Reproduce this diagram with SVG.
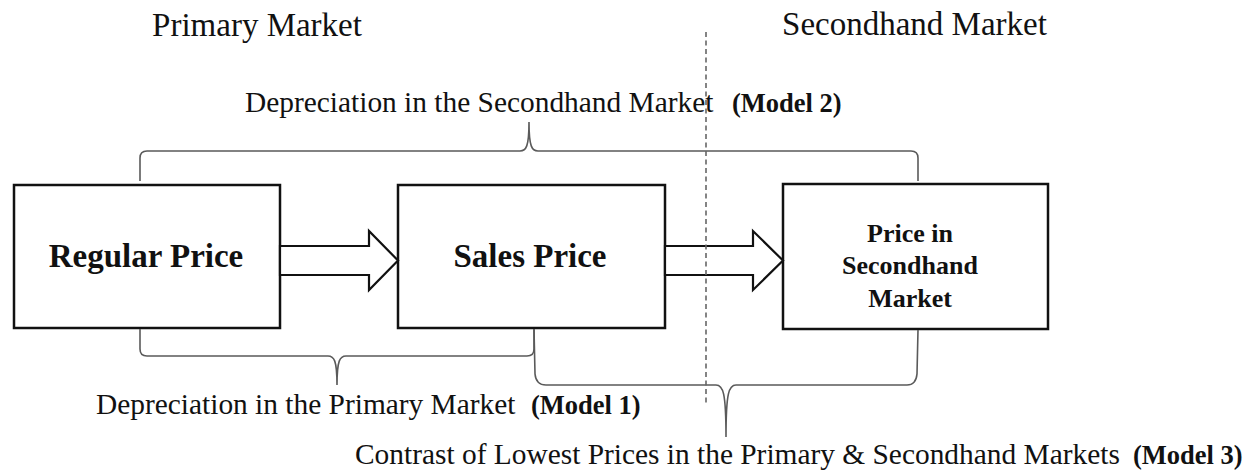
<svg xmlns="http://www.w3.org/2000/svg" width="1245" height="473" viewBox="0 0 1245 473">
<style>
  .box{fill:#fff;stroke:#111;stroke-width:2.5}
  .arrow{fill:#fff;stroke:#111;stroke-width:2.2;stroke-linejoin:miter}
  .brace{fill:none;stroke:#5a5a5a;stroke-width:1.6}
  .divider{fill:none;stroke:#666;stroke-width:1.6;stroke-dasharray:5 3.5}
  .hdr{font-family:"Liberation Serif","Times New Roman",serif;font-size:33px;fill:#111}
  .lbl{font-family:"Liberation Serif","Times New Roman",serif;font-size:29.4px;fill:#111}
  .mdl{font-family:"Liberation Serif","Times New Roman",serif;font-size:26.5px;font-weight:bold;fill:#111}
  .big{font-family:"Liberation Serif","Times New Roman",serif;font-size:33px;font-weight:bold;fill:#111;text-anchor:middle}
  .small{font-family:"Liberation Serif","Times New Roman",serif;font-size:26px;font-weight:bold;fill:#111;text-anchor:middle}
</style>
<rect width="1245" height="473" fill="#fff"/>

<g id="headers">
  <text class="hdr" x="257" y="36" text-anchor="middle">Primary Market</text>
  <text class="hdr" x="914.5" y="35" text-anchor="middle">Secondhand Market</text>
</g>

<g id="node-regular-price">
  <rect class="box" x="14" y="185" width="266" height="143"/>
  <text class="big" x="146" y="267">Regular Price</text>
</g>
<g id="node-sales-price">
  <rect class="box" x="398" y="185" width="267" height="143"/>
  <text class="big" x="530" y="267">Sales Price</text>
</g>
<g id="node-secondhand-price">
  <rect class="box" x="783" y="184" width="265" height="145"/>
  <text class="small" x="910" y="242">Price in</text>
  <text class="small" x="910" y="274">Secondhand</text>
  <text class="small" x="910" y="307">Market</text>
</g>

<g id="connectors">
  <polygon class="arrow" points="280,246 369,246 369,231 398,260.5 369,290 369,275 280,275"/>
  <polygon class="arrow" points="665,246 753,246 753,231 783,260.5 753,290 753,275 665,275"/>
  <!-- Model 2 brace (top) -->
  <path class="brace" d="M140,181 L140,158 Q140,151 147,151 L520,151 C526,151 529,147 529,122 C529,147 532,151 538,151 L911,151 Q918,151 918,158 L918,181"/>
  <!-- Model 1 brace -->
  <path class="brace" d="M140,329 L140,349 Q140,356 147,356 L328,356 C334,356 337,360 337,385 C337,360 340,356 346,356 L527,356 Q534,356 534,349 L534,329"/>
  <!-- Model 3 brace -->
  <path class="brace" d="M534,329 L535,374 Q536,385 546,385 L716,385 C723,385 726,392 726,437 C726,392 729,385 736,385 L907,385 Q916,385 917,374 L918,330"/>
  <!-- market divider -->
  <line class="divider" x1="706" y1="32" x2="706" y2="403"/>
</g>

<g id="labels">
  <text class="lbl" x="245" y="112">Depreciation in the Secondhand Market</text>
  <text class="mdl" x="732" y="112">(Model 2)</text>
  <text class="lbl" x="96" y="414">Depreciation in the Primary Market</text>
  <text class="mdl" x="531" y="414">(Model 1)</text>
  <text class="lbl" x="355" y="464">Contrast of Lowest Prices in the Primary &amp; Secondhand Markets</text>
  <text class="mdl" x="1133" y="464">(Model 3)</text>
</g>
</svg>
